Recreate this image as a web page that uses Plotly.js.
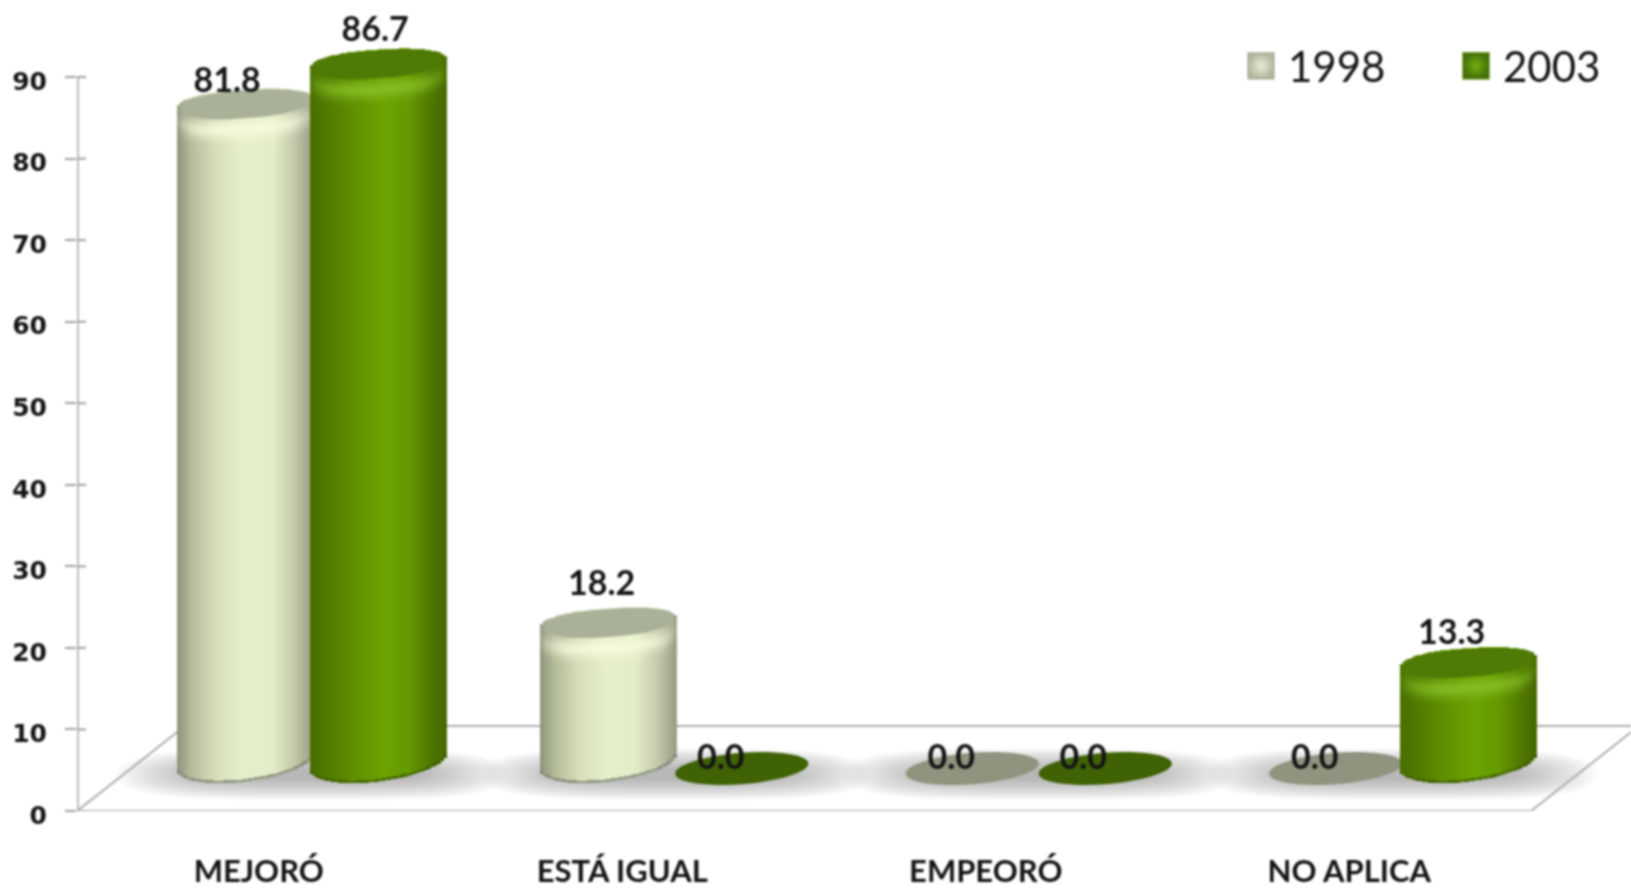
<!DOCTYPE html>
<html>
<head>
<meta charset="utf-8">
<script src="https://cdn.plot.ly/plotly-3.0.1.min.js"></script>
<style>
html,body{margin:0;padding:0;background:#fff;overflow:hidden}
#chart{width:1631px;height:888px;filter:blur(0.8px)}
.bars path{shape-rendering:crispEdges !important}
.legendpoints{transform:translate(-16px,0) scale(1.6)}
</style>
</head>
<body>
<div id="chart"></div>
<script>
// ---- data ----
const categories = ['MEJORÓ', 'ESTÁ IGUAL', 'EMPEORÓ', 'NO APLICA'];
const years = ['1998', '2003'];
const values1998 = [81.8, 18.2, 0.0, 0.0];
const values2003 = [86.7, 0.0, 0.0, 13.3];
const yTicks = [0, 10, 20, 30, 40, 50, 60, 70, 80, 90];

// ---- geometry and style ----
const W = 1631, H = 888, ML = 77, MB = 77;
const pxX = 363.5, pxY = 8.155;
const xMin = -0.5, xMax = xMin + (W - ML) / pxX, yMax = (H - MB) / pxY;
const depthX = 0.297, depthY = 10.42;
const baseY = depthY / 2, midX = depthX / 2 - 1 / pxX;
const barOff = 66.5 / pxX, A = 68 / pxX;
const B = 15.7 / pxY, K = 5 / pxY;              // flat discs
const Bt = 16 / pxY, Kt = 4.5 / pxY, topDrop = 4 / pxY; // top of a cylinder
const Bb = 20 / pxY, Kb = 8 / pxY, botLift = 7 / pxY;   // bottom of a cylinder

const styles = [
  { stops: [[-1,[138,146,122]],[-0.8,[178,186,154]],[-0.45,[212,220,184]],[-0.05,[230,239,203]],[0.4,[228,237,201]],[0.75,[192,199,168]],[1,[150,156,132]]],
    hi:[246,251,220], rim:[120,126,108], cap:'#a9b198', flat:'#8e947e' },
  { stops: [[-1,[72,110,0]],[-0.7,[82,124,0]],[-0.3,[98,146,0]],[0.1,[108,163,0]],[0.45,[100,152,0]],[0.8,[78,118,0]],[1,[70,104,0]]],
    hi:[134,190,36], rim:[56,90,0], cap:'#4f7a06', flat:'#3f6205' }
];

function sideColour(st, u){
  const s = st.stops;
  for (let i = 0; i < s.length - 1; i++){
    if (u <= s[i+1][0]){
      const t = (u - s[i][0]) / (s[i+1][0] - s[i][0]);
      return s[i][1].map((c, k) => c + (s[i+1][1][k] - c) * t);
    }
  }
  return s[s.length-1][1];
}
const mix = (a, b, t) => a.map((c, i) => c + (b[i] - c) * t);
const css = c => 'rgb(' + c.map(v => Math.round(v)).join(',') + ')';
const P = 2.4;
const round = u => Math.pow(1 - Math.pow(Math.abs(u), P), 1 / P);

function ellipsePath(cx, cy, a, b, k){
  let d = '';
  for (let i = 0; i < 48; i++){
    const t = i / 48 * 2 * Math.PI;
    d += (i ? 'L' : 'M') + (cx + a * Math.cos(t)) + ',' + (cy + b * Math.sin(t) + k * Math.cos(t));
  }
  return d + 'Z';
}
function softPath(cx, cy, a, b){
  let d = '';
  for (let i = 0; i < 48; i++){
    const t = i / 48 * 2 * Math.PI, c = Math.cos(t), s = Math.sin(t);
    d += (i ? 'L' : 'M') + (cx + a * Math.sign(c) * Math.pow(Math.abs(c), 0.55)) + ',' + (cy + b * Math.sign(s) * Math.pow(Math.abs(s), 0.8));
  }
  return d + 'Z';
}

const series = [values1998, values2003];
const shapes = [];
const traces = [];

// floor
const floorLine = { color: '#adadad', width: 2 };
function seg(x0, y0, x1, y1, line){ shapes.push({ type:'line', xref:'x', yref:'y', x0, y0, x1, y1, line: line || floorLine, layer:'below' }); }

// soft floor shadows under each group
categories.forEach((c, i) => {
  for (let n = 0; n < 18; n++){
    const f = 1 - n / 18;
    shapes.push({ type:'path', xref:'x', yref:'y', layer:'below', line:{width:0}, fillcolor:'rgba(122,122,128,0.04)',
      path: softPath(i + midX, baseY - 0.7, (100 + 95 * f) / pxX, (4 + 22 * f) / pxY) });
  }
});
seg(xMin, 0, xMin + 4, 0);
seg(xMin + depthX, depthY, xMax + 0.02, depthY);
seg(xMin, 0, xMin + depthX, depthY);
seg(xMin + 4, 0, xMin + 4 + depthX, depthY);
seg(xMin, 0, xMin, 90, { color:'#bdbdbd', width:4 });
yTicks.forEach(t => seg(xMin, t, xMin + 9 / pxX, t, { color:'#a0a0a0', width:2 }));

// cylinders
const STRIPS = 44;
series.forEach((vals, si) => {
  const st = styles[si];
  const xs = [], ws = [], bs = [], hs = [], cs = [];
  const capX = [], capY = [];
  vals.forEach((v, i) => {
    const cx = i + midX + (si ? barOff : -barOff);
    if (v === 0){
      shapes.push({ type:'path', xref:'x', yref:'y', layer:'below', line:{width:0}, fillcolor:st.flat,
        path: ellipsePath(cx, baseY, A * 0.98, B, K) });
      return;
    }
    const top = baseY + v - topDrop;
    for (let j = 0; j < STRIPS; j++){
      const u = -1 + (2 * j + 1) / STRIPS, q = round(u), qb = Math.sqrt(1 - u * u);
      const x = cx + u * A, w = 2 * A / STRIPS * 1.3;
      const side = sideColour(st, u);
      const yb = baseY + botLift + Kb * u - Bb * qb;
      const yLow = top + Kt * u - Bt * q;
      const yTop = top + Kt * u + Bt * q;
      const add = (a, b, c) => { xs.push(x); ws.push(w); bs.push(a); hs.push(b - a); cs.push(css(c)); };
      const rim = 2.5 / pxY, bandPx = 3 / pxY, bands = 10, over = 1 / pxY;
      const bandStart = yLow - bands * bandPx;
      add(yb, yb + rim + over, mix(side, st.rim, 0.75));
      add(yb + rim, bandStart + over, side);
      for (let b = 0; b < bands; b++){
        const d = (bands - b - 0.5) * 3;
        const h = Math.exp(-Math.pow((d - 8) / 9, 2)) * Math.pow(q, 1.4);
        add(bandStart + b * bandPx, bandStart + (b + 1) * bandPx + over, mix(side, st.hi, h * 0.9));
      }
      add(yLow, yTop, mix(side, st.hi, 0.25 * q));
    }
    // cap
    for (let n = 0; n <= 64; n++){
      const t = n / 64 * 2 * Math.PI, c = Math.cos(t), s = Math.sin(t);
      const ux = Math.sign(c) * Math.pow(Math.abs(c), 2 / P), uy = Math.sign(s) * Math.pow(Math.abs(s), 2 / P);
      capX.push(cx + A * 0.93 * ux);
      capY.push(top + 0.15 + Bt * 0.88 * uy + Kt * ux);
    }
    capX.push(null); capY.push(null);
  });
  traces.push({ type:'bar', x:xs, y:hs, base:bs, width:ws, name:years[si], showlegend:false, hoverinfo:'skip',
    marker:{ color:cs, line:{ width:0 } } });
  traces.push({ type:'scatter', mode:'lines', x:capX, y:capY, fill:'toself', fillcolor:st.cap, line:{ width:0, color:st.cap },
    showlegend:false, hoverinfo:'skip' });
});

// data labels (pixel nudges: the labels sit by hand in the original)
const nudge1998 = [[-18, 18], [-7, 34], [-21, 8], [-21, 8]];
const nudge2003 = [[-3, 29], [-21, 8], [-22, 8], [-17, 25]];
const nudges = [nudge1998, nudge2003];
const lx = [], ly = [], lt = [];
series.forEach((vals, si) => vals.forEach((v, i) => {
  lx.push(i + midX + (si ? barOff : -barOff) + nudges[si][i][0] / pxX);
  ly.push(baseY + v + nudges[si][i][1] / pxY);
  lt.push(v.toFixed(1));
}));
traces.push({ type:'scatter', mode:'text', x:lx, y:ly, text:lt, textposition:'middle center', cliponaxis:false,
  textfont:{ family:'Lato, "Open Sans", sans-serif', size:34, color:'#141414', weight:700 }, showlegend:false, hoverinfo:'skip' });

// legend entries (one legend each, so each can sit where the original has it)
years.forEach((y, si) => traces.push({ type:'scatter', mode:'markers', x:[null], y:[null], name:y, showlegend:true,
  legend: si ? 'legend2' : 'legend',
  marker:{ symbol:'square', size:16, color: si ? '#45700a' : '#b1b8a0',
    gradient:{ type:'radial', color: si ? '#74ae10' : '#e8eed3' },
    line:{ width:1, color: si ? '#4a7700' : '#a5ac95' } } }));

const legendBase = { xanchor:'left', yanchor:'middle', y:1 - 66 / (H - MB), itemwidth:45, bgcolor:'rgba(0,0,0,0)',
  font:{ family:'Lato, sans-serif', size:42, color:'#141414' } };

const layout = {
  width: W, height: H,
  margin: { l: ML, r: 0, t: 0, b: MB, pad: 0, autoexpand:false },
  paper_bgcolor: '#ffffff', plot_bgcolor: 'rgba(0,0,0,0)',
  barmode: 'overlay',
  xaxis: { range: [xMin, xMax], tickmode:'array', tickvals: categories.map((c, i) => i), ticktext: categories,
    showgrid:false, zeroline:false, showline:false, ticks:'', ticklabelstandoff: 39, automargin:false,
    tickfont:{ family:'Lato, sans-serif', size:31, color:'#141414', weight:700 }, fixedrange:true },
  yaxis: { range: [0, yMax], tickmode:'array', tickvals: yTicks, showgrid:false, zeroline:false, showline:false,
    ticks:'outside', ticklen:11, tickwidth:2, tickcolor:'#a0a0a0', ticklabelstandoff: 13, ticklabelshift:4, automargin:false,
    tickfont:{ family:'"DejaVu Sans", sans-serif', size:25, color:'#141414', weight:700 }, fixedrange:true },
  legend: Object.assign({}, legendBase, { x:(1233 - ML) / (W - ML) }),
  legend2: Object.assign({}, legendBase, { x:(1448 - ML) / (W - ML) }),
  shapes: shapes,
  showlegend: true
};
Plotly.newPlot('chart', traces, layout, { displayModeBar:false, staticPlot:true });
</script>
</body>
</html>
